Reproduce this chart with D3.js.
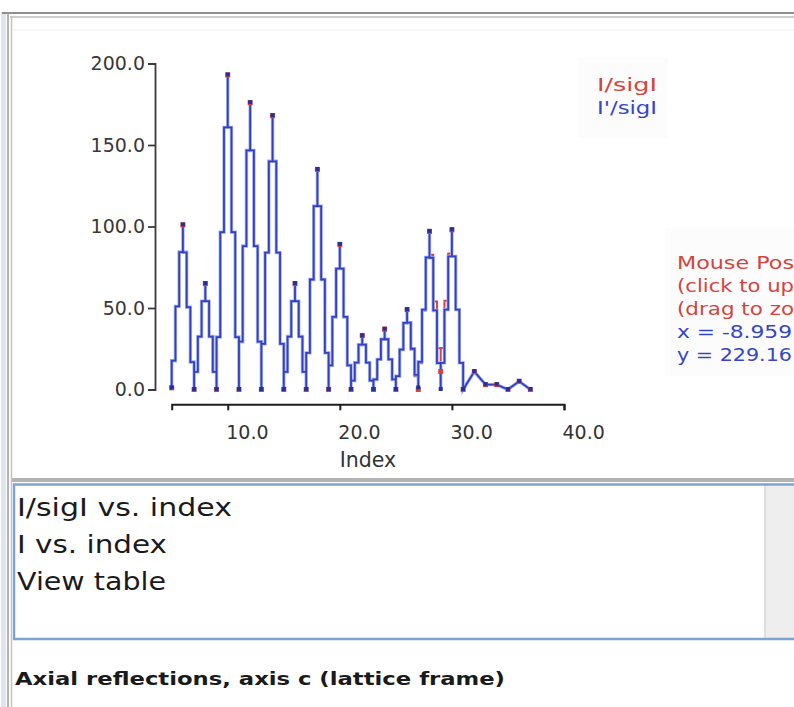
<!DOCTYPE html>
<html>
<head>
<meta charset="utf-8">
<script src="https://cdn.jsdelivr.net/npm/d3@7"></script>
<style>
  html, body { margin: 0; padding: 0; background: #ffffff; }
  svg { display: block; }
  text { font-family: "DejaVu Sans", Verdana, sans-serif; }
</style>
</head>
<body>
<svg id="view" width="794" height="707"></svg>
<script>
// Axial reflections along c: signal-to-noise by Miller index
const indices = [5, 6, 7, 8, 9, 10, 11, 12, 13, 14, 15, 16, 17, 18, 19, 20, 21,
                 22, 23, 24, 25, 26, 27, 28, 29, 30, 31, 32, 33, 34, 35, 36, 37];
const iOverSig = [1, 101, 0, 65, 0, 193, 0, 176, 0, 168, 0, 65, 0, 135, 0, 89, 0,
                  33, 0, 37, 0, 49, 0, 97, 11, 98, 0, 11, 3, 3, 0, 5, 0];
const iPrimeOverSig = [1, 101, 0, 65, 0, 193, 0, 176, 0, 168, 0, 65, 0, 135, 0, 89, 0,
                       33, 0, 37, 0, 49, 1, 97, 0, 98, 0, 11, 3, 3, 0, 5, 0];
const yTicks = [0, 50, 100, 150, 200];
const xTicks = [10, 20, 30, 40];
const seriesNames = ["I/sigI", "I'/sigI"];
const menuItems = ["I/sigI vs. index", "I vs. index", "View table"];
const mouseLines = ["Mouse Pos", "(click to up", "(drag to zo", "x = -8.959", "y = 229.16"];
const caption = "Axial reflections, axis c (lattice frame)";

const RED = "#d4443c";
const BLUE = "#3446c8";

const svg = d3.select("#view");

// ---- window chrome ----
svg.append("rect").attr("x", 0).attr("y", 0).attr("width", 794).attr("height", 707).attr("fill", "#ffffff");
svg.append("rect").attr("x", 1).attr("y", 12).attr("width", 5).attr("height", 695).attr("fill", "#dfe5ef");
svg.append("line").attr("x1", 2).attr("x2", 794).attr("y1", 13).attr("y2", 13).attr("stroke", "#8f8f8f").attr("stroke-width", 2);
svg.append("line").attr("x1", 10).attr("x2", 794).attr("y1", 17).attr("y2", 17).attr("stroke", "#bdbdbd").attr("stroke-width", 1.5);
svg.append("line").attr("x1", 8).attr("x2", 8).attr("y1", 13).attr("y2", 707).attr("stroke", "#9a9a9a").attr("stroke-width", 1.5);
svg.append("line").attr("x1", 11.5).attr("x2", 11.5).attr("y1", 17).attr("y2", 707).attr("stroke", "#c4c4c4").attr("stroke-width", 1.5);
svg.append("line").attr("x1", 12).attr("x2", 794).attr("y1", 30).attr("y2", 30).attr("stroke", "#f0f0f0").attr("stroke-width", 1);

// separator between plot panel and list
svg.append("rect").attr("x", 12).attr("y", 478).attr("width", 782).attr("height", 4).attr("fill", "#b4b4b4");

// list box
svg.append("rect").attr("x", 12).attr("y", 482).attr("width", 782).attr("height", 158).attr("fill", "#ffffff");
svg.append("rect").attr("x", 765).attr("y", 484).attr("width", 29).attr("height", 154).attr("fill", "#eeeeee");
svg.append("line").attr("x1", 765).attr("x2", 765).attr("y1", 484).attr("y2", 638).attr("stroke", "#d6d6d6").attr("stroke-width", 1.5);
svg.append("path")
  .attr("d", "M800,484.5 H14 V639 H800")
  .attr("fill", "none").attr("stroke", "#7ea2d4").attr("stroke-width", 2.5);

const menu = svg.append("g");
const menuWidths = [215, 150, 149];
const menuBaselines = [516, 553, 590];
menuItems.forEach((t, i) => {
  menu.append("text")
    .attr("x", 17).attr("y", menuBaselines[i])
    .attr("font-size", 25).attr("fill", "#1a1a1a")
    .attr("textLength", menuWidths[i]).attr("lengthAdjust", "spacingAndGlyphs")
    .text(t);
});

svg.append("text")
  .attr("x", 15).attr("y", 685)
  .attr("font-size", 18).attr("font-weight", "bold").attr("fill", "#1a1a1a")
  .attr("textLength", 490).attr("lengthAdjust", "spacingAndGlyphs")
  .text(caption);

// ---- plot ----
const x = d3.scaleLinear().domain([5, 40]).range([171.7, 564]);
const y = d3.scaleLinear().domain([0, 200]).range([389.5, 63.5]);

const yAxis = d3.axisLeft(y).tickValues(yTicks).tickFormat(d => d.toFixed(1))
  .tickSize(7).tickSizeOuter(7).tickPadding(3);
const gy = svg.append("g").attr("transform", "translate(155,0)").call(yAxis);
gy.select(".domain").attr("stroke", "#3a3a3a").attr("stroke-width", 1.8);
gy.selectAll(".tick line").attr("stroke", "#3a3a3a").attr("stroke-width", 1.8);
gy.selectAll(".tick text").attr("font-size", 19).attr("fill", "#383838")
  .attr("font-family", "'DejaVu Sans', Verdana, sans-serif");

const xAxis = d3.axisBottom(x).tickValues(xTicks).tickFormat(d => d.toFixed(1))
  .tickSize(6).tickSizeOuter(6);
const gx = svg.append("g").attr("transform", "translate(0,404.3)").call(xAxis);
gx.select(".domain").attr("stroke", "#1e1e1e").attr("stroke-width", 2);
gx.selectAll(".tick line").attr("stroke", "#1e1e1e").attr("stroke-width", 2);
gx.selectAll(".tick text").attr("font-size", 19).attr("fill", "#333333")
  .attr("font-family", "'DejaVu Sans', Verdana, sans-serif")
  .attr("text-anchor", "start").attr("x", -2).attr("y", 35).attr("dy", 0);

svg.append("text")
  .attr("x", x(22.5)).attr("y", 467)
  .attr("text-anchor", "middle").attr("font-size", 20.5).attr("fill", "#333333")
  .text("Index");

// Steep segments are drawn as stepped vertical runs, the way a
// non-antialiased raster renderer draws near-vertical lines.
function stairCurve(context) {
  let px, py, started;
  return {
    areaStart() {}, areaEnd() {},
    lineStart() { started = false; },
    lineEnd() {},
    point(cx, cy) {
      cx = +cx; cy = +cy;
      if (!started) { context.moveTo(cx, cy); started = true; }
      else {
        const dx = cx - px, dy = cy - py;
        if (Math.abs(dy) > 2.5 * Math.abs(dx)) {
          const n = Math.max(1, Math.round(Math.abs(dx) / 3.4));
          for (let i = 1; i <= n; i++) {
            const yy = py + (i - 0.5) * dy / n;
            context.lineTo(px + (i - 1) * dx / n, yy);
            context.lineTo(px + i * dx / n, yy);
          }
          context.lineTo(cx, cy);
        } else {
          context.lineTo(cx, cy);
        }
      }
      px = cx; py = cy;
    }
  };
}

const line = d3.line().x(d => x(d[0])).y(d => y(d[1])).curve(stairCurve);
const redPts = indices.map((k, i) => [k, iOverSig[i]]);
const bluePts = indices.map((k, i) => [k, iPrimeOverSig[i]]);

const plot = svg.append("g");
plot.append("path").attr("d", line(redPts)).attr("fill", "none")
  .attr("stroke", RED).attr("stroke-width", 2);
plot.append("path").attr("d", line(bluePts)).attr("fill", "none")
  .attr("stroke", "#a7b1f0").attr("stroke-width", 3.4);
plot.append("path").attr("d", line(bluePts)).attr("fill", "none")
  .attr("stroke", "#3040c0").attr("stroke-width", 1.8);

plot.selectAll("rect.red").data(redPts).join("rect").attr("class", "red")
  .attr("x", d => x(d[0]) - 2.5).attr("y", d => y(d[1]) - 2.5)
  .attr("width", 5).attr("height", 5).attr("fill", RED);
plot.selectAll("rect.blue").data(bluePts).join("rect").attr("class", "blue")
  .attr("x", d => x(d[0]) - 2).attr("y", d => y(d[1]) - 2.5)
  .attr("width", 4).attr("height", 4).attr("fill", "#26309c");

// ---- legend ----
svg.append("rect").attr("x", 578).attr("y", 58).attr("width", 90).attr("height", 80).attr("fill", "#fcfcfc");
const legendColors = [RED, BLUE];
seriesNames.forEach((t, i) => {
  svg.append("text")
    .attr("x", 597).attr("y", 91 + i * 23)
    .attr("font-size", 18).attr("fill", legendColors[i])
    .attr("textLength", 60).attr("lengthAdjust", "spacingAndGlyphs")
    .text(t);
});

// ---- mouse readout ----
svg.append("rect").attr("x", 665).attr("y", 228).attr("width", 129).attr("height", 148).attr("fill", "#fcfcfc");
const mouseColors = [RED, RED, RED, BLUE, BLUE];
const mouseWidths = [117, 117, 117, 115, 115];
mouseLines.forEach((t, i) => {
  svg.append("text")
    .attr("x", 677).attr("y", 269 + i * 23)
    .attr("font-size", 18).attr("fill", mouseColors[i])
    .attr("textLength", mouseWidths[i]).attr("lengthAdjust", "spacingAndGlyphs")
    .text(t);
});
</script>
</body>
</html>
